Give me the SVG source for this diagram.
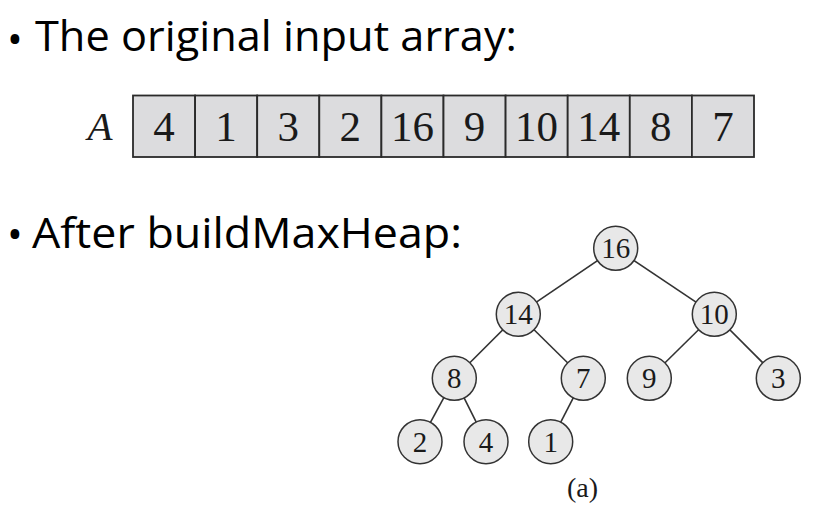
<svg xmlns="http://www.w3.org/2000/svg" width="820" height="505" viewBox="0 0 820 505">
<style>
.title{font-family:"Open Sans","Noto Sans","Liberation Sans",sans-serif;font-size:42px;fill:#000}
.cell{fill:#dcdcde;stroke:#2a2a2a;stroke-width:1.8}
.cv{font-family:"Liberation Serif","Times New Roman",serif;font-size:43px;fill:#1a1a1a;text-anchor:middle}
.node circle{fill:#e8e8e8;stroke:#333;stroke-width:1.5}
.node text{font-family:"Liberation Serif","Times New Roman",serif;font-size:29px;fill:#1a1a1a;text-anchor:middle}
.edge{stroke:#333;stroke-width:1.6;fill:none}
</style>
<rect width="820" height="505" fill="#fff"/>
<g id="title1">
<text class="title" x="7" y="54">•</text>
<text class="title" x="35" y="50.7" textLength="482" lengthAdjust="spacingAndGlyphs">The original input array:</text>
</g>
<g id="title2">
<text class="title" x="7" y="249">•</text>
<text class="title" x="32" y="248.3" textLength="430" lengthAdjust="spacingAndGlyphs">After buildMaxHeap:</text>
</g>
<g id="array">
<text x="100" y="139.5" font-family="Liberation Serif,serif" font-style="italic" font-size="41" text-anchor="middle" fill="#1a1a1a">A</text>
<rect class="cell" x="133" y="95.5" width="62.1" height="61.5"/>
<rect class="cell" x="195.1" y="95.5" width="62.1" height="61.5"/>
<rect class="cell" x="257.2" y="95.5" width="62.1" height="61.5"/>
<rect class="cell" x="319.3" y="95.5" width="62.1" height="61.5"/>
<rect class="cell" x="381.4" y="95.5" width="62.1" height="61.5"/>
<rect class="cell" x="443.5" y="95.5" width="62.1" height="61.5"/>
<rect class="cell" x="505.6" y="95.5" width="62.1" height="61.5"/>
<rect class="cell" x="567.7" y="95.5" width="62.1" height="61.5"/>
<rect class="cell" x="629.8" y="95.5" width="62.1" height="61.5"/>
<rect class="cell" x="691.9" y="95.5" width="62.1" height="61.5"/>
<text class="cv" x="164" y="140.7">4</text>
<text class="cv" x="226.1" y="140.7">1</text>
<text class="cv" x="288.2" y="140.7">3</text>
<text class="cv" x="350.3" y="140.7">2</text>
<text class="cv" x="412.4" y="140.7">16</text>
<text class="cv" x="474.5" y="140.7">9</text>
<text class="cv" x="536.6" y="140.7">10</text>
<text class="cv" x="598.7" y="140.7">14</text>
<text class="cv" x="660.8" y="140.7">8</text>
<text class="cv" x="722.9" y="140.7">7</text>
</g>
<g id="connectors">
<line class="edge" x1="615.7" y1="248.3" x2="518.3" y2="314.3"/>
<line class="edge" x1="615.7" y1="248.3" x2="714.3" y2="314.3"/>
<line class="edge" x1="518.3" y1="314.3" x2="454.3" y2="378.3"/>
<line class="edge" x1="518.3" y1="314.3" x2="583.3" y2="378.3"/>
<line class="edge" x1="714.3" y1="314.3" x2="649.3" y2="378.3"/>
<line class="edge" x1="714.3" y1="314.3" x2="778.3" y2="378.3"/>
<line class="edge" x1="454.3" y1="378.3" x2="420" y2="441.7"/>
<line class="edge" x1="454.3" y1="378.3" x2="486" y2="441.7"/>
<line class="edge" x1="583.3" y1="378.3" x2="550.7" y2="441.7"/>
</g>
<g id="n16" class="node"><circle cx="615.7" cy="248.3" r="22"/><text x="615.7" y="258.1">16</text></g>
<g id="n14" class="node"><circle cx="518.3" cy="314.3" r="22"/><text x="518.3" y="324.1">14</text></g>
<g id="n10" class="node"><circle cx="714.3" cy="314.3" r="22"/><text x="714.3" y="324.1">10</text></g>
<g id="n8" class="node"><circle cx="454.3" cy="378.3" r="22"/><text x="454.3" y="388.1">8</text></g>
<g id="n7" class="node"><circle cx="583.3" cy="378.3" r="22"/><text x="583.3" y="388.1">7</text></g>
<g id="n9" class="node"><circle cx="649.3" cy="378.3" r="22"/><text x="649.3" y="388.1">9</text></g>
<g id="n3" class="node"><circle cx="778.3" cy="378.3" r="22"/><text x="778.3" y="388.1">3</text></g>
<g id="n2" class="node"><circle cx="420" cy="441.7" r="22"/><text x="420" y="451.5">2</text></g>
<g id="n4" class="node"><circle cx="486" cy="441.7" r="22"/><text x="486" y="451.5">4</text></g>
<g id="n1" class="node"><circle cx="550.7" cy="441.7" r="22"/><text x="550.7" y="451.5">1</text></g>
<text id="caption" x="582.5" y="497" font-family="Liberation Serif,serif" font-size="28" text-anchor="middle" fill="#1a1a1a">(a)</text>
</svg>
